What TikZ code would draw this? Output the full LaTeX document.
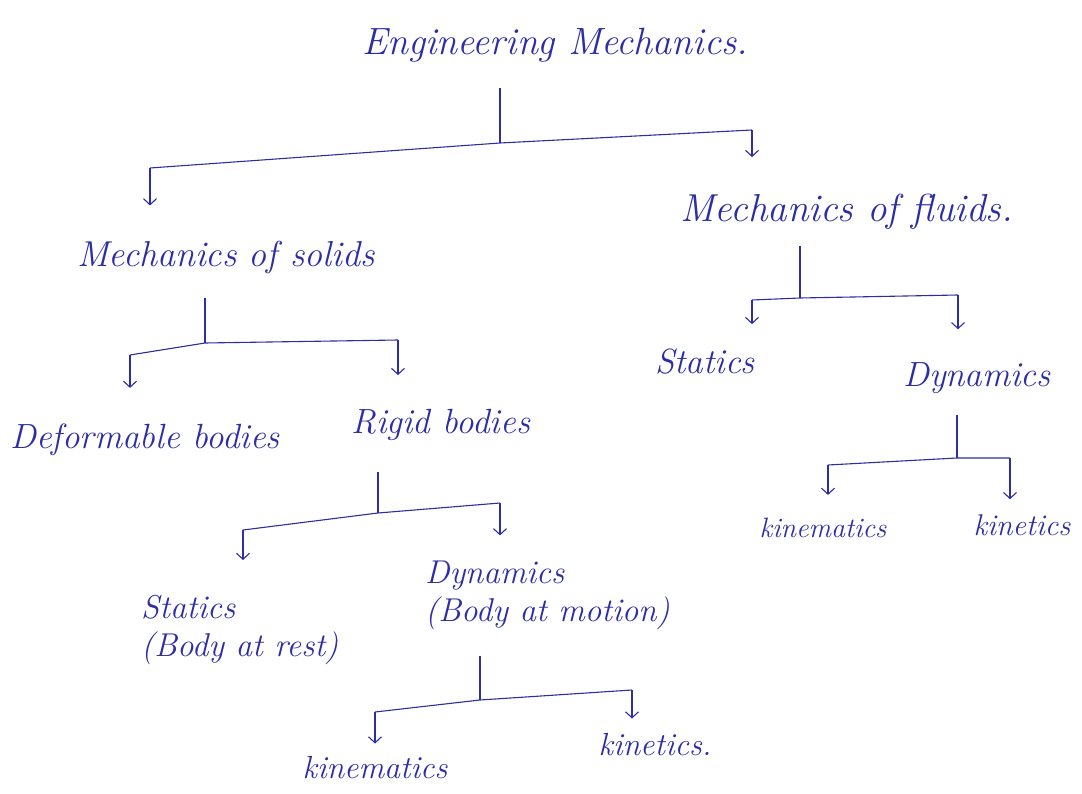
\documentclass[tikz,border=0pt]{standalone}
\usetikzlibrary{arrows.meta}
\definecolor{ink}{RGB}{45,45,165}
\begin{document}
\begin{tikzpicture}[x=1pt,y=-1pt,
  lbl/.style={text=ink,inner sep=1pt,font=\fontsize{#1}{38}\selectfont\itshape},
  ln/.style={draw=ink,line width=1.1pt},
  arr/.style={draw=ink,line width=1.1pt,-{Straight Barb[length=6pt,width=13pt]},shorten >=#1},
  arr/.default=30pt]
\useasboundingbox[fill=white] (0,0) rectangle (1082,794);
% nodes
\node[lbl=38] (em) at (555,45) {Engineering Mechanics.};
\node[lbl=36] (ms) at (226,258) {Mechanics of solids};
\node[lbl=39] (mf) at (847,212) {Mechanics of fluids.};
\node[lbl=35] (db) at (145,440) {Deformable bodies};
\node[lbl=35] (rb) at (441,425) {Rigid bodies};
\node[lbl=33,align=left,anchor=west] (rs) at (140,630) {Statics\\(Body at rest)};
\node[lbl=33,align=left,anchor=west] (rd) at (424,595) {Dynamics\\(Body at motion)};
\node[lbl=32] (rkm) at (375,768) {kinematics};
\node[lbl=32] (rkt) at (655,745) {kinetics.};
\node[lbl=35] (fs) at (705,362) {Statics};
\node[lbl=35] (fd) at (977,378) {Dynamics};
\node[lbl=28] (fkm) at (823,528) {kinematics};
\node[lbl=30] (fkt) at (1022,525) {kinetics};
% junction coordinates
\coordinate (j1) at (500,143); \coordinate (l1) at (150,168); \coordinate (r1) at (752,130);
\coordinate (j2) at (205,343); \coordinate (l2) at (130,355); \coordinate (r2) at (398,340);
\coordinate (j3) at (378,513); \coordinate (l3) at (243,530); \coordinate (r3) at (500,503);
\coordinate (j4) at (480,700); \coordinate (l4) at (375,712); \coordinate (r4) at (632,690);
\coordinate (j5) at (800,298); \coordinate (l5) at (752,300); \coordinate (r5) at (958,295);
\coordinate (j6) at (957,458); \coordinate (l6) at (828,465); \coordinate (r6) at (1010,458);
% Engineering Mechanics
\draw[ln] (em.south -| j1) ++(0,25) -- (j1);
\draw[ln] (l1) -- (j1) -- (r1);
\draw[arr=35pt] (l1) -- (ms.north -| l1);
\draw[arr=36pt] (r1) -- (mf.north -| r1);
% solids
\draw[ln] (ms.south -| j2) ++(0,22) -- (j2);
\draw[ln] (l2) -- (j2) -- (r2);
\draw[arr=35pt] (l2) -- (db.north -| l2);
\draw[arr=33pt] (r2) -- (rb.north -| r2);
% rigid
\draw[ln] (rb.south -| j3) ++(0,30) -- (j3);
\draw[ln] (l3) -- (j3) -- (r3);
\draw[arr=34pt] (l3) -- (rs.north -| l3);
\draw[arr=24pt] (r3) -- (rd.north -| r3);
% dynamics (rigid)
\draw[ln] (rd.south -| j4) ++(0,25) -- (j4);
\draw[ln] (l4) -- (j4) -- (r4);
\draw[arr=12pt] (l4) -- (rkm.north -| l4);
\draw[arr=14pt] (r4) -- (rkt.north -| r4);
% fluids
\draw[ln] (mf.south -| j5) ++(0,15) -- (j5);
\draw[ln] (l5) -- (j5) -- (r5);
\draw[arr=24pt] (l5) -- (fs.north -| l5);
\draw[arr=32pt] (r5) -- (fd.north -| r5);
% fluid dynamics
\draw[ln] (fd.south -| j6) ++(0,20) -- (j6);
\draw[ln] (l6) -- (j6) -- (r6);
\draw[arr=22pt] (l6) -- (fkm.north -| l6);
\draw[arr=14pt] (r6) -- (fkt.north -| r6);
\end{tikzpicture}
\end{document}
